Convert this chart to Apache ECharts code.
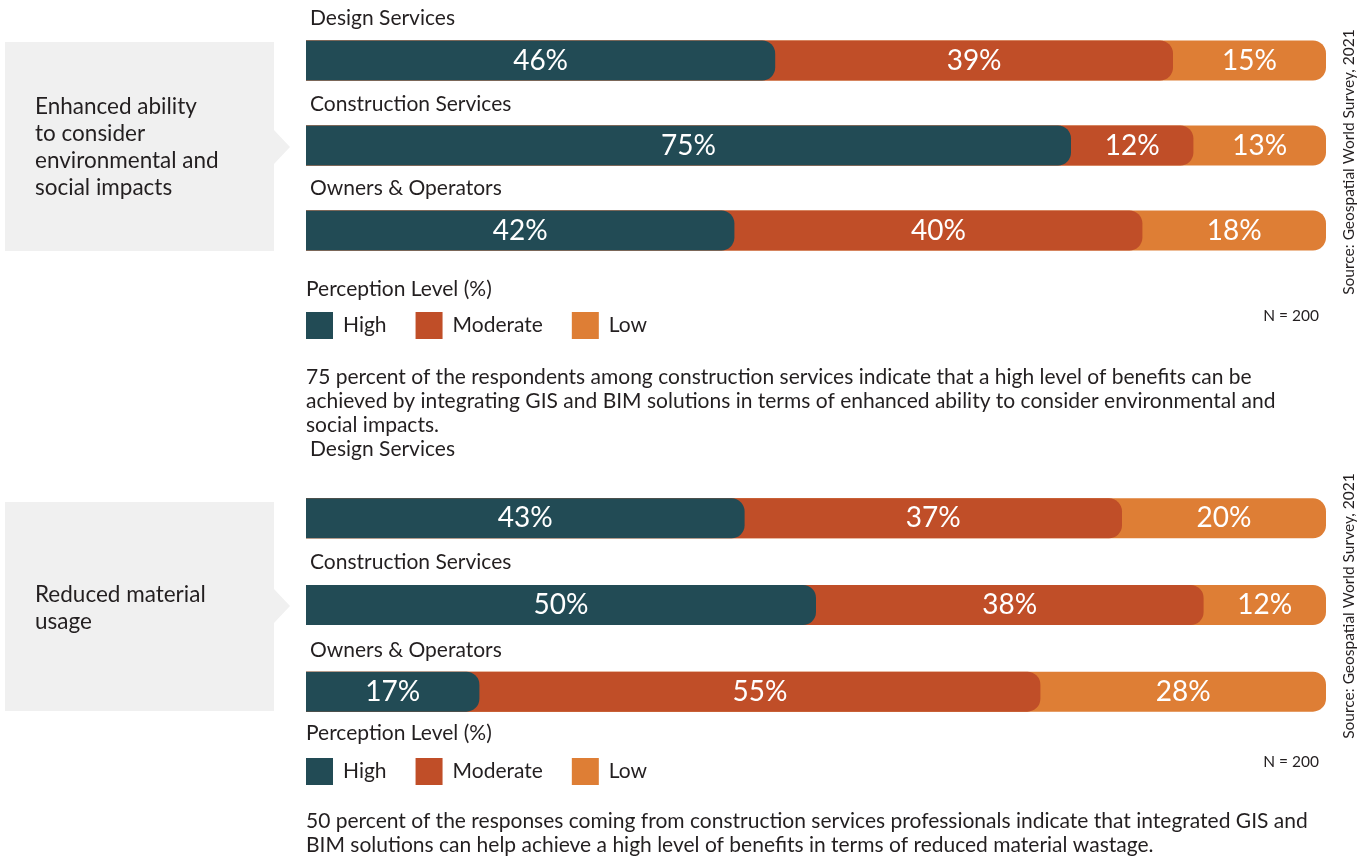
<!DOCTYPE html>
<html>
<head>
<meta charset="utf-8">
<script src="https://cdn.jsdelivr.net/npm/echarts@6/dist/echarts.min.js"></script>
<style>
  html, body { margin: 0; padding: 0; background: #fff; }
  #chart { width: 1370px; height: 860px; }
</style>
</head>
<body>
<div id="chart"></div>
<script>
// groups shown in each panel
const categories = ['Design Services', 'Construction Services', 'Owners & Operators']
const levels = ['High', 'Moderate', 'Low']

// panel 1: enhanced ability to consider environmental and social impacts
const envHigh = [46, 75, 42]
const envModerate = [39, 12, 40]
const envLow = [15, 13, 18]

// panel 2: reduced material usage
const matHigh = [43, 50, 17]
const matModerate = [37, 38, 55]
const matLow = [20, 12, 28]

const panelTitles = ['Enhanced ability\nto consider\nenvironmental and\nsocial impacts', 'Reduced material\nusage']
const notes = [
  '75 percent of the respondents among construction services indicate that a high level of benefits can be\nachieved by integrating GIS and BIM solutions in terms of enhanced ability to consider environmental and\nsocial impacts.',
  '50 percent of the responses coming from construction services professionals indicate that integrated GIS and\nBIM solutions can help achieve a high level of benefits in terms of reduced material wastage.'
]
const sourceText = 'Source: Geospatial World Survey, 2021'
const sampleText = 'N = 200'

const colors = {High: '#224b55', Moderate: '#c04e28', Low: '#de7e35'}
const FONT = 'Lato, "Open Sans", sans-serif'
const TEXT = '#231f20'

const panels = [
  {high: envHigh, moderate: envModerate, low: envLow},
  {high: matHigh, moderate: matModerate, low: matLow}
]

// layout of each panel (pixels)
const layout = [
  {gridTop: 18, gridH: 255, catY: [18, 104, 188], boxTop: 42, boxBot: 251, tipY: 147, titleY: 106,
   legendTitleY: 289, legendTop: 312, nY: 316, noteY: 365, srcY: 162},
  {gridTop: 475, gridH: 260, catY: [449, 562, 650], boxTop: 502, boxBot: 711, tipY: 606, titleY: 594,
   legendTitleY: 733, legendTop: 758, nY: 762, noteY: 809, srcY: 606}
]

const grids = []
const xAxes = []
const yAxes = []
const series = []
const legends = []
const graphics = []

panels.forEach((p, i) => {
  const L = layout[i]
  grids.push({left: 306, width: 1020, top: L.gridTop, height: L.gridH})
  xAxes.push({type: 'value', gridIndex: i, min: 0, max: 100, show: false})
  yAxes.push({type: 'category', gridIndex: i, data: categories, inverse: true, show: false})

  const cum = {
    High: p.high,
    Moderate: p.high.map((v, k) => v + p.moderate[k]),
    Low: p.high.map((v, k) => v + p.moderate[k] + p.low[k])
  }
  const z = {High: 4, Moderate: 3, Low: 2}
  levels.forEach(lv => {
    series.push({
      name: lv, type: 'bar', xAxisIndex: i, yAxisIndex: i,
      data: cum[lv], barWidth: 40, barGap: '-100%', z: z[lv],
      itemStyle: {color: colors[lv], borderRadius: [0, 13, 13, 0]},
      silent: true
    })
  })
  // invisible stacked segments only carry the centred labels
  const parts = {High: p.high, Moderate: p.moderate, Low: p.low}
  levels.forEach(lv => {
    series.push({
      name: 'lbl-' + lv, type: 'bar', xAxisIndex: i, yAxisIndex: i, stack: 'lbl' + i,
      data: parts[lv], barWidth: 40, barGap: '-100%', z: 6, silent: true,
      itemStyle: {color: 'rgba(0,0,0,0)'},
      label: {show: true, position: 'inside', formatter: '{c}%', color: '#fff', fontSize: 28, fontFamily: FONT}
    })
  })

  legends.push({
    data: levels, left: 306, top: L.legendTop, padding: 0, icon: 'rect', itemWidth: 27, itemHeight: 27,
    itemGap: 29, selectedMode: false,
    textStyle: {fontSize: 21, fontFamily: FONT, color: TEXT, padding: [0, 0, 0, 5]}
  })

  // grey callout with notch
  graphics.push({
    type: 'polygon', silent: true,
    shape: {points: [[5, L.boxTop], [274, L.boxTop], [274, L.tipY - 17], [290, L.tipY], [274, L.tipY + 17],
      [274, L.boxBot], [5, L.boxBot]]},
    style: {fill: '#f0f0f0'}
  })
  graphics.push({
    type: 'text', left: 35, top: L.titleY - 13, silent: true,
    style: {text: panelTitles[i], font: '22.5px ' + FONT, fill: TEXT, lineHeight: 27}
  })
  categories.forEach((c, k) => {
    graphics.push({
      type: 'text', x: 310, y: L.catY[k], silent: true,
      style: {text: c, font: '21px ' + FONT, fill: TEXT, verticalAlign: 'middle'}
    })
  })
  graphics.push({
    type: 'text', x: 306, y: L.legendTitleY, silent: true,
    style: {text: 'Perception Level (%)', font: '21px ' + FONT, fill: TEXT, verticalAlign: 'middle'}
  })
  graphics.push({
    type: 'text', x: 1319, y: L.nY, silent: true,
    style: {text: sampleText, font: '15.5px ' + FONT, fill: TEXT, align: 'right', verticalAlign: 'middle'}
  })
  graphics.push({
    type: 'text', x: 306, y: L.noteY, silent: true,
    style: {text: notes[i], font: '21px ' + FONT, fill: TEXT, lineHeight: 24}
  })
  graphics.push({
    type: 'text', x: 1349, y: L.srcY, rotation: Math.PI / 2, silent: true,
    style: {text: sourceText, font: '15.5px ' + FONT, fill: TEXT, align: 'center', verticalAlign: 'middle'}
  })
})

const chart = echarts.init(document.getElementById('chart'))
chart.setOption({
  animation: false,
  textStyle: {fontFamily: FONT},
  grid: grids,
  xAxis: xAxes,
  yAxis: yAxes,
  legend: legends,
  series: series,
  graphic: graphics
})
</script>
</body>
</html>
